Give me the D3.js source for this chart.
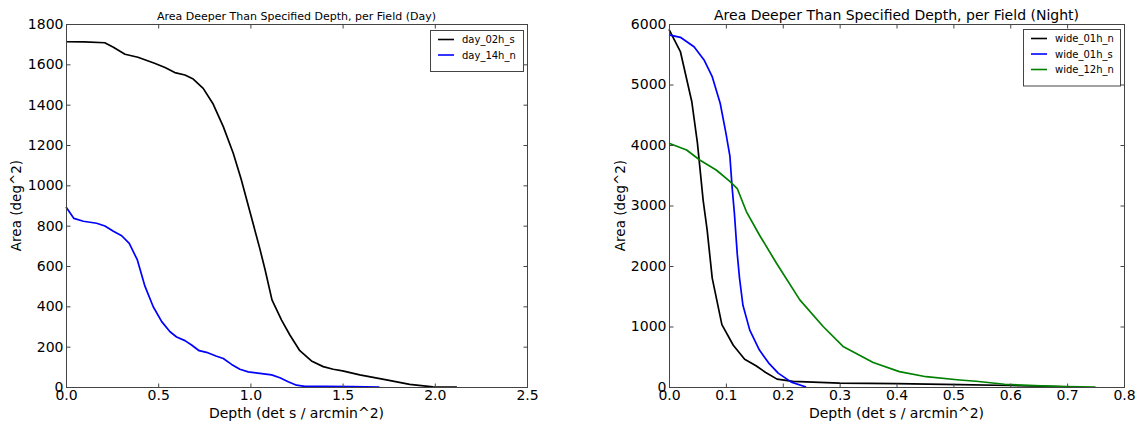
<!DOCTYPE html>
<html>
<head>
<meta charset="utf-8">
<script src="https://cdn.jsdelivr.net/npm/d3@7"></script>
<style>
  html, body { margin: 0; padding: 0; background: #fff; }
  svg { display: block; font-family: "DejaVu Sans", sans-serif; }
</style>
</head>
<body>
<svg id="chart" width="1139" height="422"></svg>
<script>
// ---------- Data ----------
const dayTitle = "Area Deeper Than Specified Depth, per Field (Day)";
const nightTitle = "Area Deeper Than Specified Depth, per Field (Night)";
const xLabel = "Depth (det s / arcmin^2)";
const yLabel = "Area (deg^2)";

const dayXTicks = [0.0, 0.5, 1.0, 1.5, 2.0, 2.5];
const dayYTicks = [0, 200, 400, 600, 800, 1000, 1200, 1400, 1600, 1800];
const nightXTicks = [0.0, 0.1, 0.2, 0.3, 0.4, 0.5, 0.6, 0.7, 0.8];
const nightYTicks = [0, 1000, 2000, 3000, 4000, 5000, 6000];

const day02hSDepth = [0, 0.1, 0.21, 0.257, 0.32, 0.39, 0.48, 0.537, 0.59, 0.645, 0.69, 0.744, 0.798, 0.853, 0.907, 0.95, 1.0, 1.05, 1.08, 1.117, 1.169, 1.214, 1.268, 1.331, 1.395, 1.449, 1.5, 1.593, 1.738, 1.864, 1.99, 2.12];
const day02hSArea  = [1712, 1711, 1707, 1685, 1650, 1635, 1605, 1584, 1559, 1547, 1527, 1481, 1403, 1291, 1159, 1030, 860, 690, 580, 432, 332, 258, 180, 129, 101, 88, 80, 60, 35, 13, 1, 0];

const day14hNDepth = [0, 0.043, 0.094, 0.166, 0.211, 0.257, 0.302, 0.343, 0.387, 0.428, 0.473, 0.519, 0.564, 0.6, 0.645, 0.681, 0.722, 0.762, 0.813, 0.853, 0.898, 0.943, 0.988, 1.051, 1.115, 1.16, 1.205, 1.25, 1.295, 1.4, 1.55, 1.7];
const day14hNArea  = [893, 836, 822, 812, 798, 772, 750, 712, 630, 500, 398, 324, 274, 248, 230, 208, 180, 172, 154, 141, 112, 88, 75, 68, 60, 46, 26, 9, 3, 3, 2, 0];

const wide01hNDepth = [0, 0.02, 0.04, 0.05, 0.06, 0.067, 0.076, 0.093, 0.113, 0.133, 0.153, 0.17, 0.19, 0.218, 0.3, 0.4, 0.511, 0.6, 0.68, 0.71];
const wide01hNArea  = [5910, 5545, 4720, 4030, 3090, 2600, 1800, 1030, 690, 460, 350, 240, 130, 92, 65, 55, 40, 25, 8, 0];

const wide01hSDepth = [0, 0.02, 0.044, 0.062, 0.076, 0.09, 0.1, 0.107, 0.111, 0.115, 0.12, 0.124, 0.13, 0.142, 0.159, 0.175, 0.192, 0.215, 0.241];
const wide01hSArea  = [5820, 5780, 5625, 5400, 5130, 4690, 4200, 3820, 3300, 2870, 2200, 1800, 1350, 940, 610, 400, 230, 80, 0];

const wide12hNDepth = [0, 0.031, 0.054, 0.083, 0.107, 0.12, 0.136, 0.159, 0.189, 0.23, 0.271, 0.306, 0.359, 0.405, 0.452, 0.511, 0.54, 0.59, 0.654, 0.7, 0.75];
const wide12hNArea  = [4030, 3918, 3752, 3587, 3400, 3280, 2900, 2513, 2045, 1440, 1000, 670, 405, 255, 170, 116, 95, 45, 17, 5, 0];

const daySeries = [
  { name: "day_02h_s", color: "#000000", depth: day02hSDepth, area: day02hSArea },
  { name: "day_14h_n", color: "#0000ff", depth: day14hNDepth, area: day14hNArea }
];
const nightSeries = [
  { name: "wide_01h_n", color: "#000000", depth: wide01hNDepth, area: wide01hNArea },
  { name: "wide_01h_s", color: "#0000ff", depth: wide01hSDepth, area: wide01hSArea },
  { name: "wide_12h_n", color: "#008000", depth: wide12hNDepth, area: wide12hNArea }
];

// ---------- Drawing ----------
const svg = d3.select("#chart");

function panel(cfg) {
  const { left, right, top, bottom } = cfg;
  const x = d3.scaleLinear().domain(cfg.xDomain).range([left, right]);
  const y = d3.scaleLinear().domain(cfg.yDomain).range([bottom, top]);
  const g = svg.append("g");
  const tickLen = 4;
  const axisColor = "#444";

  // data lines
  const line = d3.line().x(d => x(d[0])).y(d => y(d[1]));
  cfg.series.forEach(s => {
    const pts = s.depth.map((d, i) => [d, s.area[i]]);
    g.append("path").attr("d", line(pts))
      .attr("fill", "none").attr("stroke", s.color)
      .attr("stroke-width", 1.7).attr("stroke-linejoin", "round");
  });

  // frame
  g.append("rect").attr("x", left + 0.5).attr("y", top + 0.5)
    .attr("width", right - left).attr("height", bottom - top)
    .attr("fill", "none").attr("stroke", axisColor).attr("stroke-width", 1);

  // axes (inward ticks) using d3 axes
  const fmtX = d3.format(".1f");
  const xb = d3.axisBottom(x).tickValues(cfg.xTicks).tickSize(-tickLen).tickPadding(3).tickFormat(fmtX);
  const xt = d3.axisTop(x).tickValues(cfg.xTicks).tickSize(-tickLen).tickFormat("");
  const yl = d3.axisLeft(y).tickValues(cfg.yTicks).tickSize(-tickLen).tickPadding(3).tickFormat(d3.format("d"));
  const yr = d3.axisRight(y).tickValues(cfg.yTicks).tickSize(-tickLen).tickFormat("");

  const ax = [
    g.append("g").attr("transform", `translate(0,${bottom + 0.5})`).call(xb),
    g.append("g").attr("transform", `translate(0,${top + 0.5})`).call(xt),
    g.append("g").attr("transform", `translate(${left + 0.5},0)`).call(yl),
    g.append("g").attr("transform", `translate(${right + 0.5},0)`).call(yr)
  ];
  ax.forEach(a => {
    a.select(".domain").remove();
    a.selectAll(".tick line").attr("stroke", axisColor);
    a.selectAll("text").attr("font-family", "DejaVu Sans").attr("font-size", 14).attr("fill", "#000");
  });

  // title
  g.append("text").attr("x", (left + right) / 2).attr("y", 20)
    .attr("text-anchor", "middle").attr("font-size", cfg.titleSize)
    .attr("fill", "#000").text(cfg.title);

  // axis labels
  g.append("text").attr("x", (left + right) / 2).attr("y", 418)
    .attr("text-anchor", "middle").attr("font-size", 14).attr("fill", "#000").text(xLabel);
  g.append("text")
    .attr("transform", `translate(${cfg.yLabelX},${(top + bottom) / 2}) rotate(-90)`)
    .attr("text-anchor", "middle").attr("dominant-baseline", "central")
    .attr("font-size", 13.5).attr("fill", "#000").text(yLabel);

  // legend
  const lg = cfg.legend;
  const rowH = 15.5;
  g.append("rect").attr("x", lg.x + 0.5).attr("y", lg.y + 0.5)
    .attr("width", lg.w).attr("height", 10 + rowH * cfg.series.length)
    .attr("fill", "#fff").attr("stroke", axisColor).attr("stroke-width", 1);
  cfg.series.forEach((s, i) => {
    const cy = lg.y + 9.5 + rowH * i;
    g.append("line").attr("x1", lg.x + 8).attr("x2", lg.x + 24)
      .attr("y1", cy).attr("y2", cy).attr("stroke", s.color).attr("stroke-width", 1.6);
    g.append("text").attr("x", lg.x + 32).attr("y", cy).attr("dominant-baseline", "central")
      .attr("font-size", 10).attr("fill", "#000").text(s.name);
  });
}

panel({
  left: 66, right: 527, top: 24, bottom: 387,
  xDomain: [0, 2.5], yDomain: [0, 1800],
  xTicks: dayXTicks, yTicks: dayYTicks,
  series: daySeries, title: dayTitle, titleSize: 11,
  yLabelX: 16,
  legend: { x: 430, y: 30, w: 93 }
});

panel({
  left: 669, right: 1124, top: 24, bottom: 387,
  xDomain: [0, 0.8], yDomain: [0, 6000],
  xTicks: nightXTicks, yTicks: nightYTicks,
  series: nightSeries, title: nightTitle, titleSize: 14,
  yLabelX: 620,
  legend: { x: 1023, y: 29, w: 97 }
});
</script>
</body>
</html>
